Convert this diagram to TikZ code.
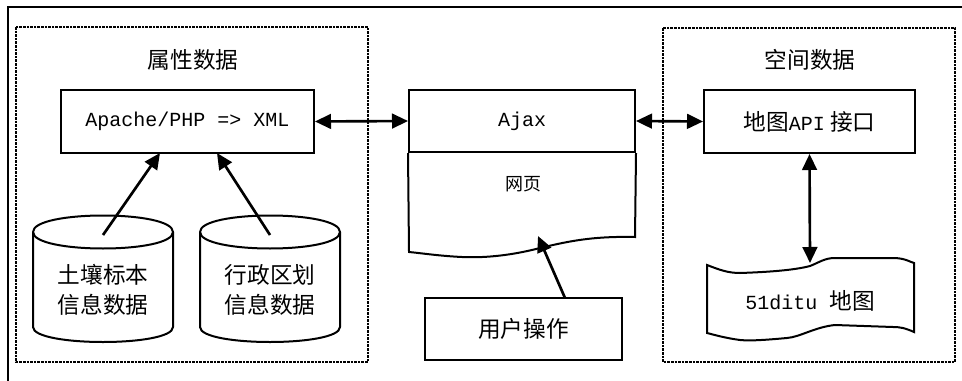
\documentclass[tikz,border=0pt]{standalone}
\usepackage{fontspec}
\setmainfont{Liberation Serif}
\newfontfamily\cjk{Noto Sans CJK SC}
\newfontfamily\lat{Liberation Mono}
\usetikzlibrary{arrows.meta}
\begin{document}
\begin{tikzpicture}[x=0.75pt,y=-0.75pt,
  framel/.style={line width=0.8pt},
  dotbox/.style={line width=2pt, dash pattern=on 2pt off 0.7pt},
  boxn/.style={draw, line width=1.5pt, rectangle, inner sep=0pt},
  shapel/.style={line width=1.5pt},
  txt/.style={font=\fontsize{17}{22.5}\selectfont\cjk, inner sep=0pt, align=center},
  smalltxt/.style={font=\fontsize{13.5}{16}\selectfont\cjk, inner sep=0pt},
  arr/.style={line width=2pt, -{Triangle[length=12pt,width=11pt]}},
  darr/.style={line width=2pt, {Triangle[length=12pt,width=11pt]}-{Triangle[length=12pt,width=11pt]}}]
\useasboundingbox (0,0) rectangle (962,381);
% outer frame (top and left visible)
\draw[framel] (8,381) -- (8,7) -- (962,7);
% dotted group boxes
\draw[dotbox] (16,27) rectangle (368,362);
\draw[dotbox] (663,28) rectangle (955,362);
% titles
\node[txt] (t1) at (193,60) {属性数据};
\node[txt] (t2) at (810,60) {空间数据};
% Apache box
\node[boxn, minimum width={253*0.75pt}, minimum height={63*0.75pt}, font=\fontsize{15}{18}\selectfont\lat] (apache) at (187.5,121.5) {Apache/PHP => XML};
% cylinders
\draw[shapel] (33,232) -- (33,327) .. controls (33,347) and (173,347) .. (173,327) -- (173,232);
\draw[shapel] (33,232) .. controls (33,210) and (173,210) .. (173,232) .. controls (173,254) and (33,254) .. (33,232);
\draw[shapel] (200,232) -- (200,327) .. controls (200,347) and (340,347) .. (340,327) -- (340,232);
\draw[shapel] (200,232) .. controls (200,210) and (340,210) .. (340,232) .. controls (340,254) and (200,254) .. (200,232);
\node[txt] (cyl1) at (103,290) {土壤标本\\信息数据};
\node[txt] (cyl2) at (270,290) {行政区划\\信息数据};
\coordinate (c1top) at (103,235);
\coordinate (c2top) at (270,235);
\coordinate (a1) at (160,153);
\coordinate (a2) at (217,153);
\draw[arr] (c1top) -- (a1);
\draw[arr] (c2top) -- (a2);
% Ajax document
\node[boxn, minimum width={226*0.75pt}, minimum height={62*0.75pt}, font=\fontsize{15}{18}\selectfont\lat] (ajax) at (522,121) {Ajax};
\draw[shapel] (ajax.south east) -- (635,237) .. controls (590,236) and (565,242) .. (536,249) .. controls (508,256) and (482,258) .. (462,257) .. controls (440,256) and (420,253) .. (409,252) -- (ajax.south west);
\node[smalltxt] (web) at (523,184) {网页};
% user operation
\node[boxn, minimum width={197*0.75pt}, minimum height={62*0.75pt}, font=\fontsize{17}{18}\selectfont\cjk] (user) at (523.5,329) {用户操作};
\coordinate (u1) at (565,298);
\coordinate (w1) at (538,236);
\draw[arr] (u1) -- (w1);
% map API box
\node[boxn, minimum width={211*0.75pt}, minimum height={63*0.75pt}, font=\fontsize{17}{18}\selectfont\cjk] (api) at (809.5,121.5) {地图{\fontsize{15}{18}\selectfont\lat API} 接口};
% tape
\draw[shapel] (707,265) .. controls (720,270) and (728,273) .. (740,273) .. controls (770,272) and (795,270) .. (810,266) .. controls (820,262) and (825,258) .. (835,258) -- (893,258) .. controls (905,258) and (910,262) .. (914,263)
  -- (914,332) .. controls (905,328) and (900,327) .. (893,327) -- (835,325) .. controls (815,327) and (800,337) .. (787,338) .. controls (765,340) and (750,341) .. (740,340) .. controls (725,338) and (715,335) .. (707,333) -- cycle;
\node[font=\fontsize{15}{18}\selectfont\lat, inner sep=0pt] (map) at (810,301) {51ditu {\fontsize{17}{18}\selectfont\cjk 地图}};
\coordinate (m1) at (810,263);
% double arrows
\draw[darr] (apache.east) -- (ajax.west);
\draw[darr] (ajax.east) -- (api.west);
\draw[darr] (api.south) -- (m1);
\end{tikzpicture}
\end{document}
